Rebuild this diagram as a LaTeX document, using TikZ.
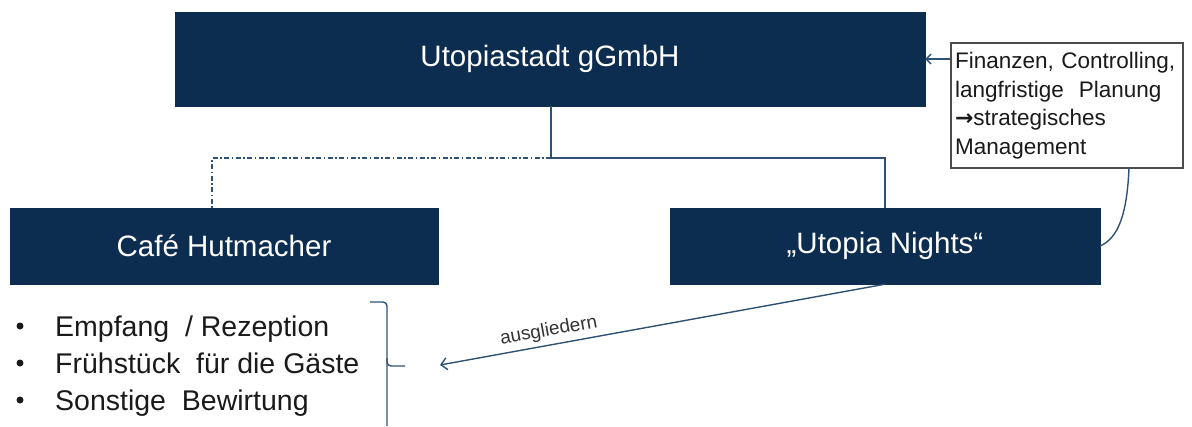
\documentclass[tikz,border=0pt]{standalone}
\usepackage{fontspec}
\setmainfont{Liberation Sans}
\newfontfamily\symfont{DejaVu Sans}
\usetikzlibrary{arrows.meta}
\definecolor{navy}{HTML}{0C2D4F}
\definecolor{linec}{HTML}{2F5274}
\definecolor{txt}{HTML}{1A1A1A}
\begin{document}
\begin{tikzpicture}[x=1pt,y=-1pt,
  orgbox/.style={fill=navy,draw=navy,text=white,inner sep=0pt,
    font=\fontsize{29.5}{32}\selectfont},
  conn/.style={draw=linec,line width=1.4pt},
  notebox/.style={draw=black!70,line width=1.4pt,fill=white,inner xsep=4pt,inner ysep=2pt,
    text width=224pt,align=left,text=txt,font=\fontsize{22.5}{28.5}\selectfont},
  bul/.style={anchor=base west,text=txt,inner sep=0pt,font=\fontsize{28.5}{32}\selectfont},
  dot/.style={circle,fill=txt,inner sep=0pt,minimum size=7pt},
  lbl/.style={text=black!80,font=\fontsize{19}{22}\selectfont}]
\useasboundingbox (0,0) rectangle (1192,426);

\node[orgbox,minimum width=750pt,minimum height=94pt] (top) at (550,59) {Utopiastadt gGmbH};
\node[orgbox,minimum width=428pt,minimum height=76pt] (left) at (224,246) {Café Hutmacher};
\node[orgbox,minimum width=430pt,minimum height=76pt] (right) at (885,246) {„Utopia Nights“};

\node[notebox,minimum width=230pt,minimum height=125pt] (note) at (1067,105.5)
  {Finanzen, Controlling,\\langfristige\ \ Planung\\{\symfont\bfseries\fontsize{22}{28.5}\selectfont →}strategisches\\Management};

% org connectors
\coordinate (junc) at (551,158);
\coordinate (ltop) at (212,208);
\draw[conn] (top.south -| junc) -- (junc) -| (right.north);
\draw[conn,line width=1.3pt,dash pattern=on 5pt off 2.5pt on 1.5pt off 2.5pt] (junc) -| (ltop);

% note connectors
\draw[conn,-{Straight Barb[length=5pt,width=10pt]}] (note.west |- top.east) -- (top.east);
\coordinate (nb) at (1129,168);
\draw[conn] (nb) .. controls (1127,215) and (1118,238) .. (right.east);

% bullet list
\node[dot] (b1) at (20,326) {};
\node[bul] (t1) at (55,336) {Empfang\ \ / Rezeption};
\node[dot] (b2) at (20,363) {};
\node[bul] (t2) at (55,373) {Frühstück\ \ für die\ Gäste};
\node[dot] (b3) at (20,400) {};
\node[bul] (t3) at (55,410) {Sonstige\ \ Bewirtung};

% bracket
\coordinate (br1) at (370,302);
\coordinate (br2) at (387,426);
\coordinate (brm) at (387,366);
\coordinate (brt) at (405,366);
\draw[conn,rounded corners=4pt] (br1) -- (br1 -| brm) -- (br2);
\draw[conn,rounded corners=4pt] (387,358) -- (brm) -- (brt);

% ausgliedern arrow
\coordinate (tgt) at (440,365);
\draw[conn,-{Straight Barb[length=6pt,width=12pt]}] (right.south) -- node[lbl,midway,above,sloped,pos=0.75,yshift=1pt] {ausgliedern} (tgt);
\end{tikzpicture}
\end{document}
